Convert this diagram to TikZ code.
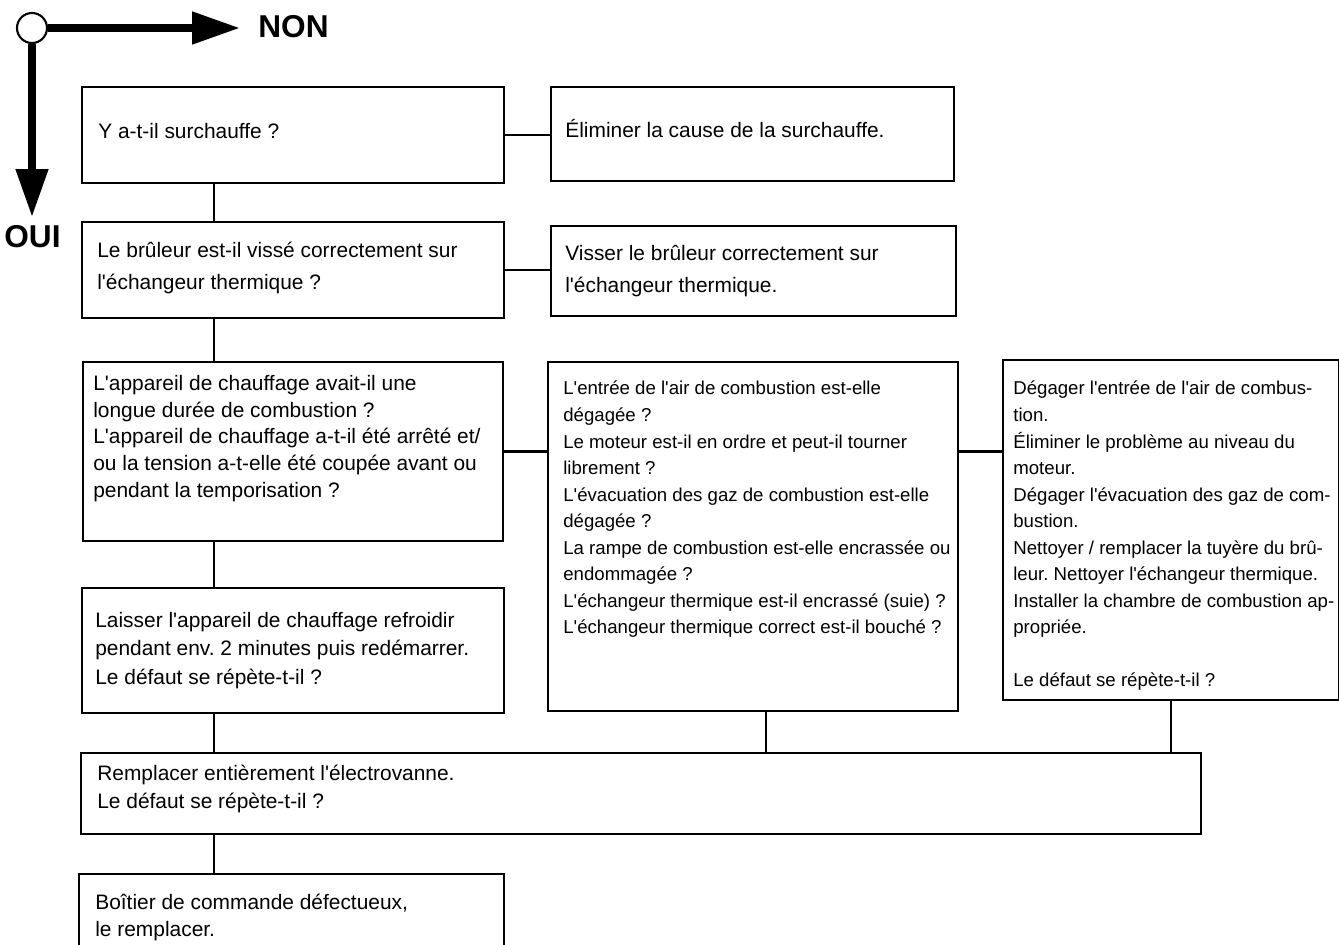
\documentclass[tikz,border=0pt]{standalone}
\usepackage{fontspec}
\setmainfont{Liberation Sans}[Ligatures=TeXOff]
\usetikzlibrary{arrows.meta,positioning}
\frenchspacing

\begin{document}
\begin{tikzpicture}[x=0.02cm,y=-0.02cm,
  box/.style={draw, line width=1.1pt, anchor=north west, inner sep=0pt},
  txt/.style={anchor=north west, yshift=12pt, inner sep=0pt, align=left,
    execute at begin node={\rule{0pt}{12pt}}, font=\fontsize{11.9}{15.2}\selectfont},
  smalltxt/.style={txt, font=\fontsize{10.6}{15.1}\selectfont},
  link/.style={line width=1.4pt},
  yesno/.style={line width=4.5pt, -{Triangle[length=0.96cm,width=0.62cm]}},
  answer/.style={anchor=base west, inner sep=0pt, font=\fontsize{18}{18}\bfseries\selectfont}]
\useasboundingbox (0,0) rectangle (1339,944);
\clip (0,0) rectangle (1339,944);

% legend
\node[draw, circle, line width=1.2pt, fill=white, minimum size=0.6cm, inner sep=0pt] (o) at (32,28) {};
\coordinate (non) at (240,28);
\coordinate (oui) at (32,217);
\draw[yesno] (o.east) -- (non);
\draw[yesno] (o.south) -- (oui);
\node[answer] (nonlbl) at (258,37) {NON};
\node[answer] (ouilbl) at (4,247) {OUI};

% boxes
\node[box, minimum width=8.44cm, minimum height=1.92cm] (a) at (81,86) {};
\node[box, minimum width=8.06cm, minimum height=1.88cm] (b) at (550,86) {};
\node[box, minimum width=8.44cm, minimum height=1.92cm] (c) at (81,221) {};
\node[box, minimum width=8.10cm, minimum height=1.80cm] (d) at (550,225) {};
\node[box, minimum width=8.40cm, minimum height=3.58cm] (e) at (82,361) {};
\node[box, minimum width=8.20cm, minimum height=6.98cm] (f) at (547,361) {};
\node[box, minimum width=6.72cm, minimum height=6.80cm] (g) at (1002,359) {};
\node[box, minimum width=8.44cm, minimum height=2.50cm] (h) at (81,587) {};
\node[box, minimum width=22.40cm, minimum height=1.62cm] (i) at (80,752) {};
\node[box, minimum width=8.50cm, minimum height=1.80cm] (j) at (78,873) {};

% texts
\node[txt] (ta) at (98,138) {Y a-t-il surchauffe ?};
\node[txt] (tb) at (565,137) {Éliminer la cause de la surchauffe.};
\node[txt, font=\fontsize{11.9}{18.2}\selectfont] (tc) at (97,263)
  {Le brûleur est-il vissé correctement sur\\l'échangeur thermique ?};
\node[txt, font=\fontsize{11.9}{18.2}\selectfont] (td) at (565,266)
  {Visser le brûleur correctement sur\\l'échangeur thermique.};
\node[txt] (te) at (93,396)
  {L'appareil de chauffage avait-il une\\longue durée de combustion ?\\
   L'appareil de chauffage a-t-il été arrêté et/\\ou la tension a-t-elle été coupée avant ou\\
   pendant la temporisation ?};
\node[smalltxt] (tf) at (563,402)
  {L'entrée de l'air de combustion est-elle\\dégagée ?\\
   Le moteur est-il en ordre et peut-il tourner\\librement ?\\
   L'évacuation des gaz de combustion est-elle\\dégagée ?\\
   La rampe de combustion est-elle encrassée ou\\endommagée ?\\
   L'échangeur thermique est-il encrassé (suie) ?\\
   L'échangeur thermique correct est-il bouché ?};
\node[smalltxt] (tg) at (1013,402)
  {Dégager l'entrée de l'air de combus-\\tion.\\
   Éliminer le problème au niveau du\\moteur.\\
   Dégager l'évacuation des gaz de com-\\bustion.\\
   Nettoyer / remplacer la tuyère du brû-\\leur. Nettoyer l'échangeur thermique.\\
   Installer la chambre de combustion ap-\\propriée.\\ \\
   Le défaut se répète-t-il ?};
\node[txt, font=\fontsize{11.9}{16.1}\selectfont] (th) at (95,633)
  {Laisser l'appareil de chauffage refroidir\\pendant env. 2 minutes puis redémarrer.\\
   Le défaut se répète-t-il ?};
\node[txt, font=\fontsize{11.9}{16}\selectfont] (ti) at (97,786)
  {Remplacer entièrement l'électrovanne.\\Le défaut se répète-t-il ?};
\node[txt] (tj) at (95,915)
  {Boîtier de commande défectueux,\\le remplacer.};

% connectors
\coordinate (spine) at (214,0);
\coordinate (fdrop) at (766,0);
\draw[link] (a.east) -- (a.east -| b.west);
\draw[link] (c.east) -- (c.east -| d.west);
\draw[link] (e.east) -- (e.east -| f.west);
\draw[link] (e.east -| f.east) -- (e.east -| g.west);
\draw[link] (a.south -| spine) -- (c.north -| spine);
\draw[link] (c.south -| spine) -- (e.north -| spine);
\draw[link] (e.south -| spine) -- (h.north -| spine);
\draw[link] (h.south -| spine) -- (i.north -| spine);
\draw[link] (f.south -| fdrop) -- (i.north -| fdrop);
\draw[link] (g.south) -- (g.south |- i.north);
\draw[link] (i.south -| spine) -- (j.north -| spine);
\end{tikzpicture}
\end{document}
